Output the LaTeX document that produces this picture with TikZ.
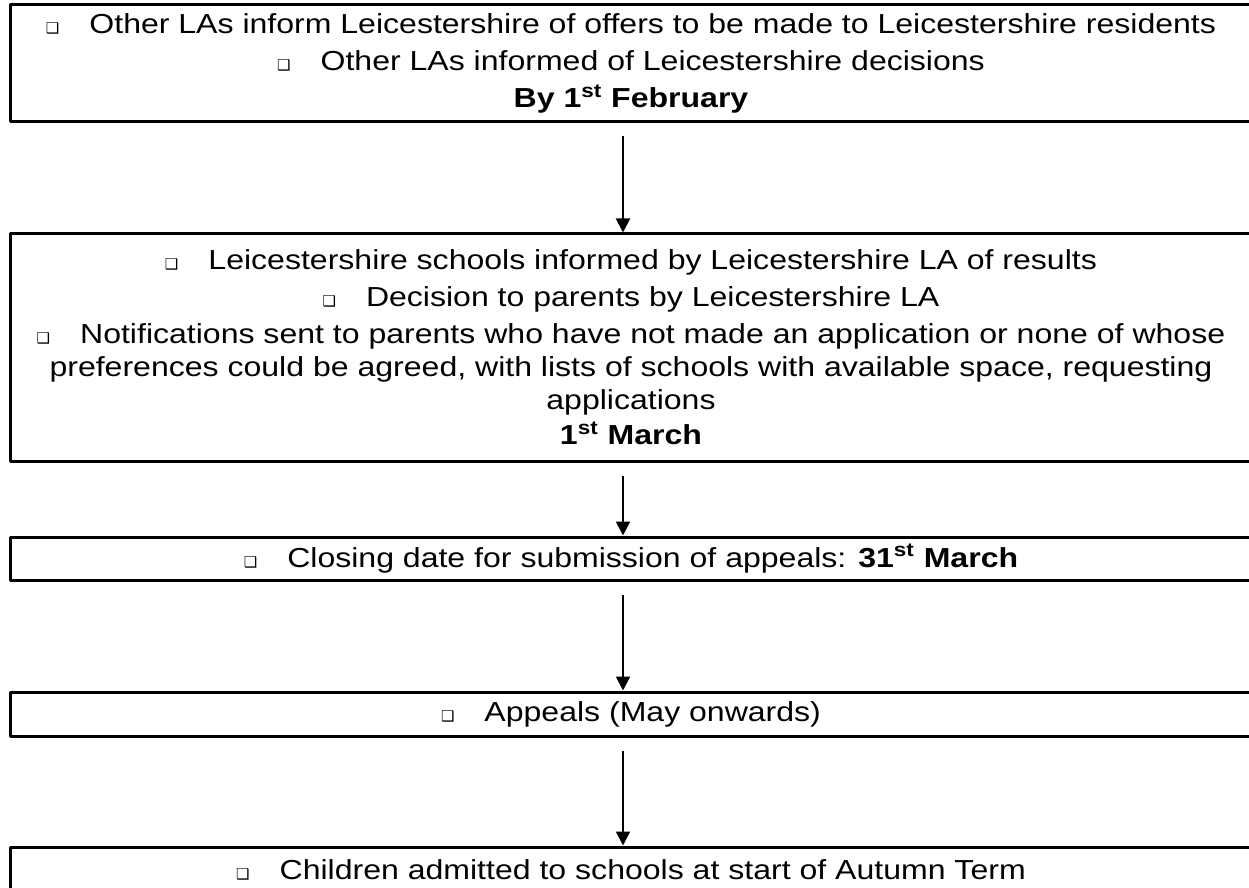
\documentclass[tikz,border=0pt]{standalone}
\usepackage{fontspec}
\setmainfont{Liberation Sans}[FakeStretch=1.165]
\newfontfamily\bulletfont{DejaVu Sans}
\usetikzlibrary{arrows.meta}
\newcommand{\sq}{{\bulletfont\fontsize{7.5}{9}\selectfont ❑}\hspace{15pt}}
\begin{document}
\begin{tikzpicture}[x=.5pt, y=-.5pt, line join=round,
	every node/.style={font=\fontsize{13.75}{16.5}\selectfont},
	stage/.style={draw, line width=1.5pt, minimum width=621pt, align=center, inner sep=0pt},
	flow/.style={-{Triangle[length=7pt,width=7pt]}, line width=1pt, shorten <=6.5pt}]
		\useasboundingbox (0,0) rectangle (1249,888);
		\clip (0,0) rectangle (1249,888);
		\node[stage, minimum height=58.5pt] (feb) at (631,63.5)
		{\sq Other LAs inform Leicestershire of offers to be made to Leicestershire residents\\[2pt]
		\sq Other LAs informed of Leicestershire decisions\\[2pt]
		\textbf{By 1\textsuperscript{st} February}};
		\node[stage, minimum height=113.5pt] (mar) at (631,347.5)
		{\sq Leicestershire schools informed by Leicestershire LA of results\\[2pt]
		\sq Decision to parents by Leicestershire LA\\[2pt]
		\sq Notifications sent to parents who have not made an application or none of whose\\
		preferences could be agreed, with lists of schools with available space, requesting\\
		applications\\[1pt]
		\textbf{1\textsuperscript{st} March}};
		\node[stage, minimum height=21.5pt] (close) at (631,558.5)
		{\sq Closing date for submission of appeals: \textbf{31\textsuperscript{st} March}};
		\node[stage, minimum height=22pt] (appeal) at (631,714) {\sq Appeals (May onwards)};
		\node[stage, minimum height=22.5pt] (admit) at (631,869.5)
		{\sq Children admitted to schools at start of Autumn Term};
		% arrows sit a little left of the box centres
		\draw[flow] ([xshift=-4pt]feb.south) -- ([xshift=-4pt]mar.north);
		\draw[flow] ([xshift=-4pt]mar.south) -- ([xshift=-4pt]close.north);
		\draw[flow] ([xshift=-4pt]close.south) -- ([xshift=-4pt]appeal.north);
		\draw[flow] ([xshift=-4pt]appeal.south) -- ([xshift=-4pt]admit.north);
\end{tikzpicture}
\end{document}
